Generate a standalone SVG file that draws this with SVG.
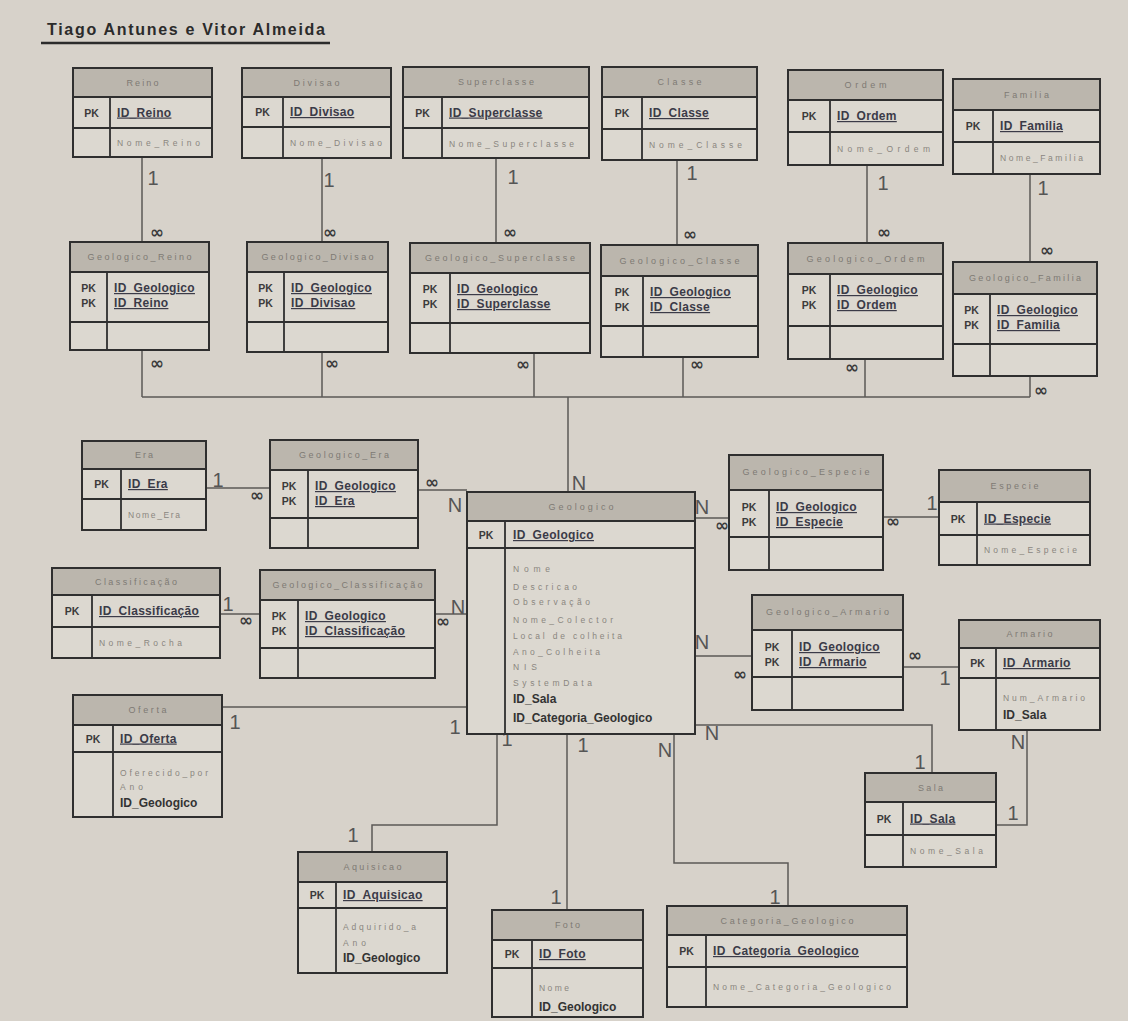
<svg xmlns="http://www.w3.org/2000/svg" width="1128" height="1021" viewBox="0 0 1128 1021">
<style>
.bg{fill:#d7d2ca}
.bd{fill:#dcd8d0;stroke:none}
.hd{fill:#bbb6ad;stroke:none}
.ol{fill:none;stroke:#2f2f2f;stroke-width:2}
.ln{fill:none;stroke:#2f2f2f;stroke-width:1.8}
.cn{fill:none;stroke:#5c5a57;stroke-width:1.5}
text{font-family:"Liberation Sans",Arial,sans-serif}
.ht{font-size:9px;fill:#7e7a74;text-anchor:middle}
.pk{font-size:10.5px;font-weight:bold;fill:#3b3b3b;text-anchor:middle}
.ky{font-size:12px;font-weight:bold;fill:#3b3b48;text-decoration:underline;letter-spacing:0.3px}
.at{font-size:8.5px;fill:#8a867f}
.fk{font-size:12px;font-weight:bold;fill:#333}
.c1{font-size:20px;fill:#555;text-anchor:middle}
.inf{font-family:"DejaVu Sans",sans-serif;font-size:17px;font-weight:bold;fill:#3a3a3a;text-anchor:middle}
</style>
<rect class="bg" x="0" y="0" width="1128" height="1021"/>

<g id="title">
<text x="47" y="35" font-size="16" font-weight="bold" fill="#2b2b2b" textLength="278">Tiago Antunes e Vitor Almeida</text>
<line x1="41" y1="43" x2="330" y2="43" stroke="#2b2b2b" stroke-width="2.5"/>
</g>

<g id="connectors">
<path class="cn" d="M142 157V242M322 158V242M496 158V243M677 160V245M867 165V243M1030 174V262"/>
<path class="cn" d="M142 350V397M322 352V397M534 353V397M683 357V397M865 359V397M1030 376V397M142 397H1030M568 397V492"/>
<path class="cn" d="M206 488H270M418 490H467M220 614H260M435 614H467"/>
<path class="cn" d="M695 518H729M883 517H939M695 656H752M903 667H959"/>
<path class="cn" d="M1027 730V825H996M695 725H932V773"/>
<path class="cn" d="M222 707H467M497 734V825H372V852M567 734V910M674 734V863H788V906"/>
<!-- cardinalities -->
<text class="c1" x="153" y="185">1</text>
<text class="c1" x="329" y="187">1</text>
<text class="c1" x="513" y="184">1</text>
<text class="c1" x="692" y="180">1</text>
<text class="c1" x="883" y="190">1</text>
<text class="c1" x="1043" y="195">1</text>
<text class="inf" x="157" y="238">∞</text>
<text class="inf" x="330" y="238">∞</text>
<text class="inf" x="510" y="238">∞</text>
<text class="inf" x="690" y="240">∞</text>
<text class="inf" x="884" y="238">∞</text>
<text class="inf" x="1047" y="256">∞</text>
<text class="inf" x="157" y="369">∞</text>
<text class="inf" x="332" y="369">∞</text>
<text class="inf" x="523" y="370">∞</text>
<text class="inf" x="697" y="370">∞</text>
<text class="inf" x="852" y="373">∞</text>
<text class="inf" x="1041" y="396">∞</text>
<text class="c1" x="579" y="490">N</text>
<text class="c1" x="218" y="487">1</text>
<text class="inf" x="257" y="501">∞</text>
<text class="inf" x="432" y="488">∞</text>
<text class="c1" x="455" y="512">N</text>
<text class="c1" x="228" y="611">1</text>
<text class="inf" x="246" y="626">∞</text>
<text class="inf" x="443" y="627">∞</text>
<text class="c1" x="458" y="614">N</text>
<text class="c1" x="702" y="514">N</text>
<text class="inf" x="722" y="531">∞</text>
<text class="inf" x="893" y="527">∞</text>
<text class="c1" x="932" y="510">1</text>
<text class="c1" x="702" y="649">N</text>
<text class="inf" x="740" y="680">∞</text>
<text class="inf" x="915" y="661">∞</text>
<text class="c1" x="945" y="685">1</text>
<text class="c1" x="1018" y="749">N</text>
<text class="c1" x="1013" y="820">1</text>
<text class="c1" x="712" y="740">N</text>
<text class="c1" x="920" y="769">1</text>
<text class="c1" x="235" y="729">1</text>
<text class="c1" x="455" y="734">1</text>
<text class="c1" x="507" y="746">1</text>
<text class="c1" x="353" y="842">1</text>
<text class="c1" x="583" y="752">1</text>
<text class="c1" x="556" y="904">1</text>
<text class="c1" x="665" y="757">N</text>
<text class="c1" x="775" y="904">1</text>
</g>

<g id="reino">
<rect class="bd" x="73" y="68" width="139" height="89"/><rect class="hd" x="73" y="68" width="139" height="29"/>
<path class="ln" d="M73 97H212M73 128H212M110 97V157"/><rect class="ol" x="73" y="68" width="139" height="89"/>
<text class="ht" x="142.5" y="86" textLength="32">Reino</text>
<text class="pk" x="91.5" y="116.5">PK</text><text class="ky" x="117" y="116.5">ID_Reino</text>
<text class="at" x="117" y="146" textLength="83">Nome_Reino</text>
</g>
<g id="divisao">
<rect class="bd" x="242" y="68" width="149" height="90"/><rect class="hd" x="242" y="68" width="149" height="29"/>
<path class="ln" d="M242 97H391M242 127H391M283 97V158"/><rect class="ol" x="242" y="68" width="149" height="90"/>
<text class="ht" x="316.5" y="86" textLength="46">Divisao</text>
<text class="pk" x="262.5" y="116">PK</text><text class="ky" x="290" y="116">ID_Divisao</text>
<text class="at" x="290" y="146" textLength="92">Nome_Divisao</text>
</g>
<g id="superclasse">
<rect class="bd" x="403" y="67" width="186" height="91"/><rect class="hd" x="403" y="67" width="186" height="30"/>
<path class="ln" d="M403 97H589M403 128H589M442 97V158"/><rect class="ol" x="403" y="67" width="186" height="91"/>
<text class="ht" x="496" y="85" textLength="76">Superclasse</text>
<text class="pk" x="422.5" y="116.5">PK</text><text class="ky" x="449" y="116.5">ID_Superclasse</text>
<text class="at" x="449" y="146.5" textLength="125">Nome_Superclasse</text>
</g>
<g id="classe">
<rect class="bd" x="602" y="67" width="155" height="93"/><rect class="hd" x="602" y="67" width="155" height="30"/>
<path class="ln" d="M602 97H757M602 129H757M642 97V160"/><rect class="ol" x="602" y="67" width="155" height="93"/>
<text class="ht" x="679.5" y="85" textLength="44">Classe</text>
<text class="pk" x="622" y="117">PK</text><text class="ky" x="649" y="117">ID_Classe</text>
<text class="at" x="649" y="148" textLength="93">Nome_Classe</text>
</g>
<g id="ordem">
<rect class="bd" x="788" y="70" width="155" height="95"/><rect class="hd" x="788" y="70" width="155" height="30"/>
<path class="ln" d="M788 100H943M788 132H943M830 100V165"/><rect class="ol" x="788" y="70" width="155" height="95"/>
<text class="ht" x="865.5" y="88" textLength="42">Ordem</text>
<text class="pk" x="809" y="120">PK</text><text class="ky" x="837" y="120">ID_Ordem</text>
<text class="at" x="837" y="152" textLength="93">Nome_Ordem</text>
</g>
<g id="familia">
<rect class="bd" x="953" y="79" width="147" height="95"/><rect class="hd" x="953" y="79" width="147" height="31"/>
<path class="ln" d="M953 110H1100M953 142H1100M993 110V174"/><rect class="ol" x="953" y="79" width="147" height="95"/>
<text class="ht" x="1026.5" y="97.5" textLength="45">Familia</text>
<text class="pk" x="973" y="130">PK</text><text class="ky" x="1000" y="130">ID_Familia</text>
<text class="at" x="1000" y="161" textLength="83">Nome_Familia</text>
</g>

<g id="geologico_reino">
<rect class="bd" x="70" y="242" width="139" height="108"/><rect class="hd" x="70" y="242" width="139" height="30"/>
<path class="ln" d="M70 272H209M70 322H209M107 272V350"/><rect class="ol" x="70" y="242" width="139" height="108"/>
<text class="ht" x="139.5" y="260" textLength="104">Geologico_Reino</text>
<text class="pk" x="88.5" y="292">PK</text><text class="pk" x="88.5" y="307">PK</text>
<text class="ky" x="114" y="292">ID_Geologico</text><text class="ky" x="114" y="307">ID_Reino</text>
</g>
<g id="geologico_divisao">
<rect class="bd" x="247" y="242" width="141" height="110"/><rect class="hd" x="247" y="242" width="141" height="30"/>
<path class="ln" d="M247 272H388M247 322H388M284 272V352"/><rect class="ol" x="247" y="242" width="141" height="110"/>
<text class="ht" x="317.5" y="260" textLength="112">Geologico_Divisao</text>
<text class="pk" x="265.5" y="292">PK</text><text class="pk" x="265.5" y="307">PK</text>
<text class="ky" x="291" y="292">ID_Geologico</text><text class="ky" x="291" y="307">ID_Divisao</text>
</g>
<g id="geologico_superclasse">
<rect class="bd" x="410" y="243" width="180" height="110"/><rect class="hd" x="410" y="243" width="180" height="30"/>
<path class="ln" d="M410 273H590M410 323H590M450 273V353"/><rect class="ol" x="410" y="243" width="180" height="110"/>
<text class="ht" x="500" y="261" textLength="150">Geologico_Superclasse</text>
<text class="pk" x="430" y="293">PK</text><text class="pk" x="430" y="308">PK</text>
<text class="ky" x="457" y="293">ID_Geologico</text><text class="ky" x="457" y="308">ID_Superclasse</text>
</g>
<g id="geologico_classe">
<rect class="bd" x="601" y="245" width="157" height="112"/><rect class="hd" x="601" y="245" width="157" height="31"/>
<path class="ln" d="M601 276H758M601 326H758M643 276V357"/><rect class="ol" x="601" y="245" width="157" height="112"/>
<text class="ht" x="679.5" y="263.5" textLength="120">Geologico_Classe</text>
<text class="pk" x="622" y="296">PK</text><text class="pk" x="622" y="311">PK</text>
<text class="ky" x="650" y="296">ID_Geologico</text><text class="ky" x="650" y="311">ID_Classe</text>
</g>
<g id="geologico_ordem">
<rect class="bd" x="788" y="243" width="155" height="116"/><rect class="hd" x="788" y="243" width="155" height="31"/>
<path class="ln" d="M788 274H943M788 326H943M830 274V359"/><rect class="ol" x="788" y="243" width="155" height="116"/>
<text class="ht" x="865.5" y="261.5" textLength="118">Geologico_Ordem</text>
<text class="pk" x="809" y="294">PK</text><text class="pk" x="809" y="309">PK</text>
<text class="ky" x="837" y="294">ID_Geologico</text><text class="ky" x="837" y="309">ID_Ordem</text>
</g>
<g id="geologico_familia">
<rect class="bd" x="953" y="262" width="144" height="114"/><rect class="hd" x="953" y="262" width="144" height="32"/>
<path class="ln" d="M953 294H1097M953 344H1097M990 294V376"/><rect class="ol" x="953" y="262" width="144" height="114"/>
<text class="ht" x="1025" y="281" textLength="112">Geologico_Familia</text>
<text class="pk" x="971.5" y="314">PK</text><text class="pk" x="971.5" y="329">PK</text>
<text class="ky" x="997" y="314">ID_Geologico</text><text class="ky" x="997" y="329">ID_Familia</text>
</g>

<g id="era">
<rect class="bd" x="82" y="441" width="124" height="89"/><rect class="hd" x="82" y="441" width="124" height="28"/>
<path class="ln" d="M82 469H206M82 499H206M121 469V530"/><rect class="ol" x="82" y="441" width="124" height="89"/>
<text class="ht" x="144" y="458" textLength="18">Era</text>
<text class="pk" x="101.5" y="488">PK</text><text class="ky" x="128" y="488">ID_Era</text>
<text class="at" x="128" y="517.5" textLength="52">Nome_Era</text>
</g>
<g id="geologico_era">
<rect class="bd" x="270" y="440" width="148" height="108"/><rect class="hd" x="270" y="440" width="148" height="30"/>
<path class="ln" d="M270 470H418M270 518H418M308 470V548"/><rect class="ol" x="270" y="440" width="148" height="108"/>
<text class="ht" x="344" y="458" textLength="90">Geologico_Era</text>
<text class="pk" x="289" y="490">PK</text><text class="pk" x="289" y="505">PK</text>
<text class="ky" x="315" y="490">ID_Geologico</text><text class="ky" x="315" y="505">ID_Era</text>
</g>
<g id="classificacao">
<rect class="bd" x="52" y="568" width="168" height="90"/><rect class="hd" x="52" y="568" width="168" height="27"/>
<path class="ln" d="M52 595H220M52 627H220M92 595V658"/><rect class="ol" x="52" y="568" width="168" height="90"/>
<text class="ht" x="136" y="584.5" textLength="82">Classificação</text>
<text class="pk" x="72" y="615">PK</text><text class="ky" x="99" y="615">ID_Classificação</text>
<text class="at" x="99" y="645.5" textLength="83">Nome_Rocha</text>
</g>
<g id="geologico_classificacao">
<rect class="bd" x="260" y="570" width="175" height="108"/><rect class="hd" x="260" y="570" width="175" height="30"/>
<path class="ln" d="M260 600H435M260 648H435M298 600V678"/><rect class="ol" x="260" y="570" width="175" height="108"/>
<text class="ht" x="347.5" y="588" textLength="150">Geologico_Classificação</text>
<text class="pk" x="279" y="620">PK</text><text class="pk" x="279" y="635">PK</text>
<text class="ky" x="305" y="620">ID_Geologico</text><text class="ky" x="305" y="635">ID_Classificação</text>
</g>

<g id="geologico">
<rect class="bd" x="467" y="492" width="228" height="242"/><rect class="hd" x="467" y="492" width="228" height="29"/>
<path class="ln" d="M467 521H695M467 548H695M505 521V734"/><rect class="ol" x="467" y="492" width="228" height="242"/>
<text class="ht" x="581" y="510" textLength="65">Geologico</text>
<text class="pk" x="486" y="539">PK</text><text class="ky" x="513" y="539" font-size="13">ID_Geologico</text>
<text class="at" x="513" y="572" textLength="37">Nome</text>
<text class="at" x="513" y="590" textLength="64">Descricao</text>
<text class="at" x="513" y="605" textLength="77">Observação</text>
<text class="at" x="513" y="623" textLength="100">Nome_Colector</text>
<text class="at" x="513" y="639" textLength="109">Local de colheita</text>
<text class="at" x="513" y="655" textLength="87">Ano_Colheita</text>
<text class="at" x="513" y="670" textLength="24">NIS</text>
<text class="at" x="513" y="686" textLength="79">SystemData</text>
<text class="fk" x="513" y="703">ID_Sala</text>
<text class="fk" x="513" y="722">ID_Categoria_Geologico</text>
</g>

<g id="geologico_especie">
<rect class="bd" x="729" y="455" width="154" height="115"/><rect class="hd" x="729" y="455" width="154" height="35"/>
<path class="ln" d="M729 490H883M729 537H883M769 490V570"/><rect class="ol" x="729" y="455" width="154" height="115"/>
<text class="ht" x="806" y="475" textLength="127">Geologico_Especie</text>
<text class="pk" x="749" y="511">PK</text><text class="pk" x="749" y="526">PK</text>
<text class="ky" x="776" y="511">ID_Geologico</text><text class="ky" x="776" y="526">ID_Especie</text>
</g>
<g id="especie">
<rect class="bd" x="939" y="470" width="151" height="95"/><rect class="hd" x="939" y="470" width="151" height="32"/>
<path class="ln" d="M939 502H1090M939 535H1090M977 502V565"/><rect class="ol" x="939" y="470" width="151" height="95"/>
<text class="ht" x="1014.5" y="489" textLength="48">Especie</text>
<text class="pk" x="958" y="522.5">PK</text><text class="ky" x="984" y="522.5">ID_Especie</text>
<text class="at" x="984" y="553" textLength="93">Nome_Especie</text>
</g>
<g id="geologico_armario">
<rect class="bd" x="752" y="595" width="151" height="115"/><rect class="hd" x="752" y="595" width="151" height="35"/>
<path class="ln" d="M752 630H903M752 677H903M792 630V710"/><rect class="ol" x="752" y="595" width="151" height="115"/>
<text class="ht" x="827.5" y="615" textLength="123">Geologico_Armario</text>
<text class="pk" x="772" y="651">PK</text><text class="pk" x="772" y="666">PK</text>
<text class="ky" x="799" y="651">ID_Geologico</text><text class="ky" x="799" y="666">ID_Armario</text>
</g>
<g id="armario">
<rect class="bd" x="959" y="620" width="141" height="110"/><rect class="hd" x="959" y="620" width="141" height="28"/>
<path class="ln" d="M959 648H1100M959 678H1100M996 648V730"/><rect class="ol" x="959" y="620" width="141" height="110"/>
<text class="ht" x="1029.5" y="637" textLength="46">Armario</text>
<text class="pk" x="977.5" y="667">PK</text><text class="ky" x="1003" y="667">ID_Armario</text>
<text class="at" x="1003" y="701" textLength="82">Num_Armario</text>
<text class="fk" x="1003" y="719">ID_Sala</text>
</g>

<g id="oferta">
<rect class="bd" x="73" y="695" width="149" height="122"/><rect class="hd" x="73" y="695" width="149" height="30"/>
<path class="ln" d="M73 725H222M73 752H222M113 725V817"/><rect class="ol" x="73" y="695" width="149" height="122"/>
<text class="ht" x="147.5" y="713" textLength="38">Oferta</text>
<text class="pk" x="93" y="742.5">PK</text><text class="ky" x="120" y="742.5">ID_Oferta</text>
<text class="at" x="120" y="776" textLength="88">Oferecido_por</text>
<text class="at" x="120" y="790" textLength="23">Ano</text>
<text class="fk" x="120" y="807">ID_Geologico</text>
</g>
<g id="sala">
<rect class="bd" x="865" y="773" width="131" height="94"/><rect class="hd" x="865" y="773" width="131" height="29"/>
<path class="ln" d="M865 802H996M865 835H996M903 802V867"/><rect class="ol" x="865" y="773" width="131" height="94"/>
<text class="ht" x="930.5" y="790.5" textLength="25">Sala</text>
<text class="pk" x="884" y="822.5">PK</text><text class="ky" x="910" y="822.5">ID_Sala</text>
<text class="at" x="910" y="854" textLength="73">Nome_Sala</text>
</g>
<g id="aquisicao">
<rect class="bd" x="298" y="852" width="149" height="121"/><rect class="hd" x="298" y="852" width="149" height="30"/>
<path class="ln" d="M298 882H447M298 908H447M336 882V973"/><rect class="ol" x="298" y="852" width="149" height="121"/>
<text class="ht" x="372.5" y="870" textLength="58">Aquisicao</text>
<text class="pk" x="317" y="899">PK</text><text class="ky" x="343" y="899">ID_Aquisicao</text>
<text class="at" x="343" y="930" textLength="73">Adquirido_a</text>
<text class="at" x="343" y="946" textLength="23">Ano</text>
<text class="fk" x="343" y="962">ID_Geologico</text>
</g>
<g id="foto">
<rect class="bd" x="492" y="910" width="151" height="107"/><rect class="hd" x="492" y="910" width="151" height="30"/>
<path class="ln" d="M492 940H643M492 968H643M532 940V1017"/><rect class="ol" x="492" y="910" width="151" height="107"/>
<text class="ht" x="567.5" y="928" textLength="25">Foto</text>
<text class="pk" x="512" y="958">PK</text><text class="ky" x="539" y="958">ID_Foto</text>
<text class="at" x="539" y="991" textLength="30">Nome</text>
<text class="fk" x="539" y="1011">ID_Geologico</text>
</g>
<g id="categoria_geologico">
<rect class="bd" x="667" y="906" width="240" height="101"/><rect class="hd" x="667" y="906" width="240" height="29"/>
<path class="ln" d="M667 935H907M667 967H907M706 935V1007"/><rect class="ol" x="667" y="906" width="240" height="101"/>
<text class="ht" x="787" y="923.5" textLength="133">Categoria_Geologico</text>
<text class="pk" x="686.5" y="955">PK</text><text class="ky" x="713" y="955">ID_Categoria_Geologico</text>
<text class="at" x="713" y="990" textLength="178">Nome_Categoria_Geologico</text>
</g>
</svg>
